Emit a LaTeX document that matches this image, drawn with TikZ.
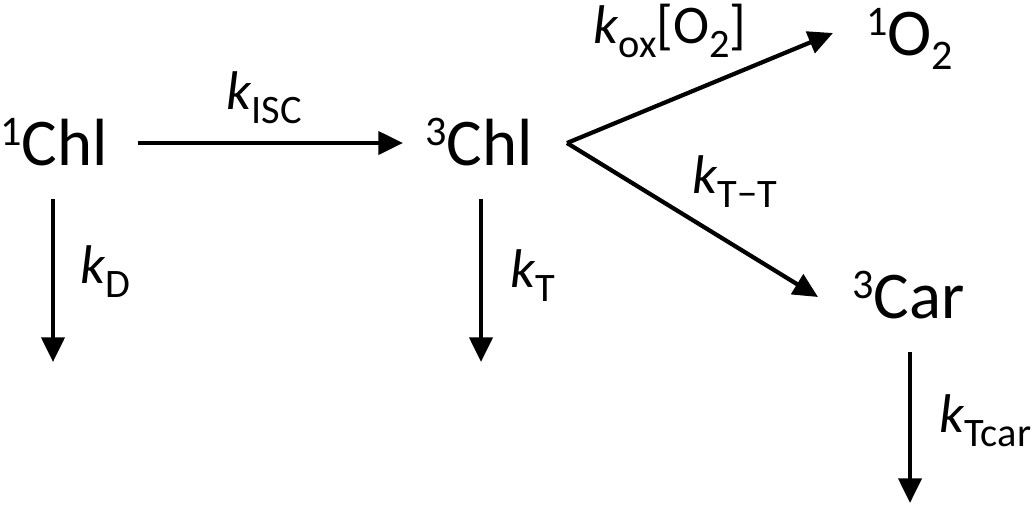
\documentclass[tikz,border=0pt]{standalone}
\usepackage{fontspec}
\setmainfont{Carlito}
\usetikzlibrary{arrows.meta, calc}
\newcommand{\upnum}[1]{\raisebox{11pt}{\fontsize{24}{24}\selectfont #1}}
\newcommand{\dnnum}[1]{\raisebox{-8.5pt}{\fontsize{24}{24}\selectfont #1}}
\newcommand{\lowsub}[1]{\raisebox{-8pt}{\fontsize{23}{23}\selectfont #1}}
\newcommand{\rate}[1]{\textit{k}\lowsub{#1}}
\tikzset{
  species/.style={font=\fontsize{38}{40}\selectfont, inner sep=0pt, anchor=base west},
  ratelbl/.style={font=\fontsize{31}{32}\selectfont, inner sep=0pt, anchor=base west},
  flow/.style={-{Triangle[length=14pt, width=13pt]}, line width=2.4pt},
}

\begin{document}
\begin{tikzpicture}[x=0.02cm, y=-0.02cm]
        \useasboundingbox (0,0) rectangle (1033,508);
        % Spezies
        \node[species] (chlS) at (0,165) {\upnum{1}Chl};
        \node[species] (chlT) at (425,165) {\upnum{3}Chl};
        \node[species] (oxS) at (866,55) {\upnum{1}O\dnnum{2}};
        \node[species] (carT) at (852,318) {\upnum{3}Car};
        % freie Enden
        \coordinate (sinkS) at (53,362);
        \coordinate (sinkT) at (481,362);
        \coordinate (sinkC) at (910,503);
        \coordinate (fork) at ($(chlT.base west)+(142,-22)$);
        % Pfeile
        \draw[flow] ($(chlS.base west)+(138,-22)$) -- ($(chlT.base west)+(-22,-22)$);
        \draw[flow] (fork) -- ($(oxS.base west)+(-33,-22)$);
        \draw[flow] (fork) -- ($(carT.base west)+(-34,-21)$);
        \draw[flow] ($(chlS.base west)+(53,34)$) -- (sinkS);
        \draw[flow] ($(chlT.base west)+(56,34)$) -- (sinkT);
        \draw[flow] ($(carT.base west)+(58,34)$) -- (sinkC);
        % Raten
        \node[ratelbl] (kisc) at (226,109) {\rate{ISC}};
        \node[ratelbl] (kox) at (593,43) {\rate{ox}[O\lowsub{2}]};
        \node[ratelbl] (ktt) at (692,193) {\rate{T−T}};
        \node[ratelbl] (kd) at (80,283) {\rate{D}};
        \node[ratelbl] (kt) at (510,287) {\rate{T}};
        \node[ratelbl] (ktcar) at (939,432) {\rate{Tcar}};
      \end{tikzpicture}
\end{document}
